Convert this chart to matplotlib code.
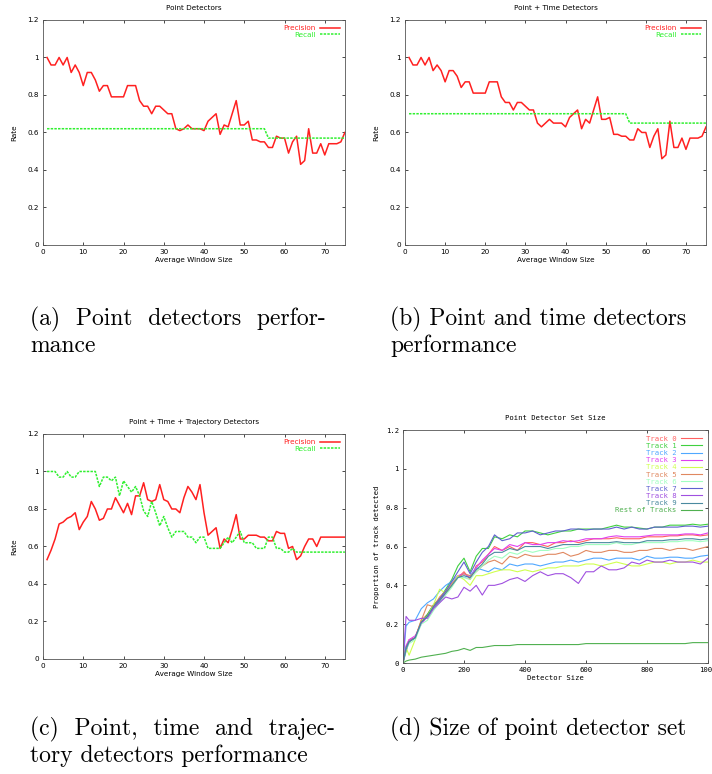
import matplotlib
matplotlib.use("Agg")
import matplotlib.pyplot as plt

# ---- panel a/b/c data: window size 1..75 ----
window = list(range(1, 76))

prec_point = [1.0, 0.96, 0.96, 1.0, 0.96, 1.0, 0.92, 0.96, 0.92, 0.85,
              0.92, 0.92, 0.88, 0.82, 0.85, 0.85, 0.79, 0.79, 0.79, 0.79,
              0.85, 0.85, 0.85, 0.77, 0.74, 0.74, 0.70, 0.74, 0.74, 0.72,
              0.70, 0.70, 0.62, 0.61, 0.62, 0.64, 0.62, 0.62, 0.62, 0.61,
              0.66, 0.68, 0.70, 0.59, 0.64, 0.63, 0.70, 0.77, 0.64, 0.64,
              0.66, 0.56, 0.56, 0.55, 0.55, 0.52, 0.52, 0.58, 0.57, 0.57,
              0.49, 0.55, 0.58, 0.43, 0.45, 0.62, 0.49, 0.49, 0.54, 0.48,
              0.54, 0.54, 0.54, 0.55, 0.60]
rec_point = [0.62] * 55 + [0.57] * 20

prec_time = [1.0, 0.96, 0.96, 1.0, 0.96, 1.0, 0.93, 0.96, 0.93, 0.87,
             0.93, 0.93, 0.90, 0.84, 0.87, 0.87, 0.81, 0.81, 0.81, 0.81,
             0.87, 0.87, 0.87, 0.79, 0.76, 0.76, 0.72, 0.76, 0.76, 0.74,
             0.72, 0.72, 0.65, 0.63, 0.65, 0.67, 0.65, 0.65, 0.65, 0.63,
             0.68, 0.70, 0.72, 0.62, 0.67, 0.65, 0.72, 0.79, 0.67, 0.67,
             0.68, 0.59, 0.59, 0.58, 0.58, 0.56, 0.56, 0.62, 0.60, 0.60,
             0.52, 0.58, 0.62, 0.46, 0.48, 0.66, 0.52, 0.52, 0.57, 0.51,
             0.57, 0.57, 0.57, 0.58, 0.63]
rec_time = [0.70] * 55 + [0.65] * 20

prec_traj = [0.53, 0.58, 0.64, 0.72, 0.73, 0.75, 0.76, 0.78, 0.69, 0.73,
             0.76, 0.84, 0.80, 0.74, 0.75, 0.80, 0.80, 0.86, 0.82, 0.78,
             0.83, 0.77, 0.87, 0.87, 0.94, 0.85, 0.84, 0.85, 0.93, 0.85,
             0.84, 0.80, 0.80, 0.78, 0.86, 0.92, 0.89, 0.85, 0.93, 0.78,
             0.66, 0.68, 0.70, 0.59, 0.64, 0.62, 0.69, 0.77, 0.64, 0.64,
             0.66, 0.66, 0.66, 0.65, 0.65, 0.63, 0.63, 0.68, 0.67, 0.67,
             0.59, 0.60, 0.53, 0.55, 0.60, 0.64, 0.64, 0.60, 0.65, 0.65,
             0.65, 0.65, 0.65, 0.65, 0.65]
rec_traj = [1.0, 1.0, 1.0, 0.97, 0.97, 1.0, 0.97, 0.97, 1.0, 1.0,
            1.0, 1.0, 1.0, 0.92, 0.97, 0.97, 0.95, 0.97, 0.87, 0.95,
            0.92, 0.89, 0.92, 0.87, 0.79, 0.76, 0.84, 0.78, 0.71, 0.76,
            0.70, 0.65, 0.68, 0.68, 0.68, 0.65, 0.65, 0.62, 0.65, 0.65,
            0.59, 0.59, 0.59, 0.59, 0.62, 0.65, 0.62, 0.65, 0.68, 0.62,
            0.62, 0.62, 0.59, 0.59, 0.59, 0.65, 0.65, 0.59, 0.59, 0.57,
            0.57, 0.59, 0.57, 0.57, 0.57, 0.57, 0.57, 0.57, 0.57, 0.57,
            0.57, 0.57, 0.57, 0.57, 0.57]

# ---- panel d data ----
det_size = [0, 10, 20, 40, 60, 80, 100, 120, 140, 160, 180, 200, 220, 240,
            260, 280, 300, 325, 350, 375, 400, 425, 450, 475, 500, 525, 550,
            575, 600, 625, 650, 675, 700, 725, 750, 775, 800, 825, 850, 875,
            900, 925, 950, 975, 1000]

track0 = [0, 0.08, 0.12, 0.13, 0.22, 0.25, 0.30, 0.33, 0.36, 0.40, 0.44, 0.47, 0.43, 0.50,
          0.52, 0.56, 0.60, 0.58, 0.60, 0.58,
          0.62, 0.62, 0.61, 0.60, 0.62, 0.62, 0.63, 0.62, 0.63, 0.64, 0.64, 0.64, 0.645,
          0.64, 0.64, 0.64, 0.65, 0.65, 0.65, 0.655, 0.655, 0.66, 0.66, 0.655, 0.66]
track1 = [0, 0.06, 0.11, 0.13, 0.21, 0.25, 0.30, 0.33, 0.38, 0.43, 0.50, 0.54, 0.47, 0.55,
          0.59, 0.59, 0.65, 0.64, 0.66, 0.65,
          0.68, 0.68, 0.67, 0.66, 0.67, 0.68, 0.68, 0.69, 0.69, 0.69, 0.69, 0.70, 0.71,
          0.70, 0.70, 0.695, 0.69, 0.70, 0.70, 0.71, 0.71, 0.71, 0.715, 0.71, 0.715]
track2 = [0, 0.19, 0.21, 0.22, 0.28, 0.31, 0.33, 0.37, 0.40, 0.42, 0.45, 0.44, 0.45, 0.49,
          0.48, 0.47, 0.49, 0.48, 0.51, 0.50,
          0.51, 0.51, 0.50, 0.51, 0.52, 0.52, 0.53, 0.52, 0.53, 0.54, 0.54, 0.53, 0.54,
          0.54, 0.54, 0.53, 0.55, 0.54, 0.54, 0.545, 0.545, 0.54, 0.54, 0.55, 0.555]
track3 = [0, 0.09, 0.12, 0.14, 0.20, 0.24, 0.28, 0.32, 0.36, 0.40, 0.45, 0.46, 0.44, 0.49,
          0.53, 0.56, 0.59, 0.58, 0.61, 0.60,
          0.62, 0.61, 0.61, 0.62, 0.62, 0.63, 0.625, 0.63, 0.64, 0.64, 0.64, 0.65, 0.655,
          0.65, 0.65, 0.65, 0.655, 0.66, 0.66, 0.66, 0.66, 0.665, 0.665, 0.66, 0.67]
track4 = [0, 0.08, 0.04, 0.12, 0.22, 0.24, 0.30, 0.38, 0.36, 0.40, 0.45, 0.43, 0.40, 0.45,
          0.45, 0.46, 0.47, 0.48, 0.48, 0.47,
          0.48, 0.47, 0.48, 0.49, 0.49, 0.50, 0.50, 0.50, 0.51, 0.51, 0.50, 0.51, 0.52,
          0.51, 0.50, 0.50, 0.51, 0.52, 0.52, 0.51, 0.52, 0.52, 0.53, 0.52, 0.52]
track5 = [0, 0.08, 0.11, 0.13, 0.22, 0.30, 0.29, 0.34, 0.37, 0.41, 0.44, 0.46, 0.45, 0.47,
          0.50, 0.52, 0.53, 0.51, 0.55, 0.54,
          0.56, 0.55, 0.55, 0.56, 0.56, 0.57, 0.55, 0.56, 0.58, 0.57, 0.57, 0.58, 0.58,
          0.57, 0.57, 0.58, 0.58, 0.59, 0.59, 0.58, 0.59, 0.59, 0.58, 0.59, 0.60]
track6 = [0, 0.07, 0.10, 0.12, 0.20, 0.22, 0.27, 0.31, 0.35, 0.39, 0.44, 0.44, 0.43, 0.47,
          0.50, 0.53, 0.55, 0.54, 0.57, 0.56,
          0.58, 0.57, 0.58, 0.58, 0.59, 0.59, 0.60, 0.60, 0.61, 0.61, 0.61, 0.61, 0.62,
          0.61, 0.61, 0.62, 0.62, 0.62, 0.62, 0.625, 0.625, 0.63, 0.63, 0.625, 0.63]
track7 = [0, 0.07, 0.11, 0.13, 0.21, 0.24, 0.29, 0.33, 0.37, 0.42, 0.47, 0.52, 0.46, 0.52,
          0.57, 0.60, 0.66, 0.63, 0.64, 0.67,
          0.67, 0.68, 0.66, 0.67, 0.68, 0.68, 0.69, 0.69, 0.685, 0.69, 0.69, 0.69, 0.70,
          0.69, 0.70, 0.69, 0.69, 0.70, 0.70, 0.70, 0.70, 0.705, 0.705, 0.70, 0.705]
track8 = [0, 0.24, 0.22, 0.22, 0.23, 0.23, 0.28, 0.31, 0.34, 0.33, 0.34, 0.39, 0.37, 0.40,
          0.35, 0.40, 0.40, 0.41, 0.43, 0.44,
          0.42, 0.45, 0.47, 0.45, 0.46, 0.46, 0.44, 0.41, 0.47, 0.47, 0.50, 0.48, 0.48,
          0.49, 0.52, 0.51, 0.53, 0.52, 0.52, 0.53, 0.52, 0.52, 0.52, 0.51, 0.54]
track9 = [0, 0.08, 0.11, 0.13, 0.21, 0.24, 0.29, 0.32, 0.36, 0.40, 0.44, 0.45, 0.44, 0.48,
          0.51, 0.55, 0.57, 0.57, 0.59, 0.58,
          0.60, 0.60, 0.60, 0.59, 0.60, 0.61, 0.61, 0.61, 0.62, 0.62, 0.62, 0.62, 0.625,
          0.62, 0.62, 0.62, 0.63, 0.63, 0.63, 0.635, 0.635, 0.64, 0.64, 0.635, 0.64]
rest = [0, 0.01, 0.015, 0.02, 0.03, 0.035, 0.04, 0.045, 0.05, 0.06, 0.065, 0.075, 0.065, 0.08,
        0.08, 0.085, 0.09, 0.09, 0.09, 0.095,
        0.095, 0.095, 0.095, 0.095, 0.095, 0.095, 0.095, 0.095, 0.10, 0.10, 0.10, 0.10, 0.10,
        0.10, 0.10, 0.10, 0.10, 0.10, 0.10, 0.10, 0.10, 0.10, 0.105, 0.105, 0.105]

track_names = ["Track 0", "Track 1", "Track 2", "Track 3", "Track 4", "Track 5",
               "Track 6", "Track 7", "Track 8", "Track 9", "Rest of Tracks"]
track_values = [track0, track1, track2, track3, track4, track5,
                track6, track7, track8, track9, rest]
track_colors = ["#ff6060", "#40d040", "#50a8ff", "#e040f0", "#d0ff50", "#e08860",
                "#a0ffc0", "#6060d0", "#a050e0", "#4a8aa0", "#50b050"]

SANS = "DejaVu Sans"
MONO = "DejaVu Sans Mono"
FS = 5.2


def style_axes(ax, family):
    ax.tick_params(direction="in", length=2.5, width=0.5, labelsize=FS,
                   top=True, right=True, pad=3)
    for lab in ax.get_xticklabels() + ax.get_yticklabels():
        lab.set_family(family)
    for s in ax.spines.values():
        s.set_linewidth(0.6)
        s.set_color("#555555")


def rate_panel(ax, title, prec, rec):
    ax.plot(window, prec, color="#ff2020", lw=1.1, label="Precision")
    ax.plot(window, rec, color="#30f030", lw=1.1, ls=(0, (1.6, 0.8)), label="Recall")
    ax.set_xlim(0, 75)
    ax.set_ylim(0, 1.2)
    ax.set_xticks(range(0, 71, 10))
    ax.set_yticks([0, 0.2, 0.4, 0.6, 0.8, 1.0, 1.2])
    ax.set_yticklabels(["0", "0.2", "0.4", "0.6", "0.8", "1", "1.2"])
    ax.set_title(title, fontsize=FS, family=SANS, pad=7)
    ax.set_xlabel("Average Window Size", fontsize=FS, family=SANS, labelpad=1)
    ax.set_ylabel("Rate", fontsize=FS, family=SANS, labelpad=7)
    ax.legend(loc="upper right", frameon=False, markerfirst=False,
              labelcolor="linecolor", prop={"family": SANS, "size": FS},
              handlelength=2.8, handletextpad=0.6, labelspacing=0.1,
              borderaxespad=0.3)
    style_axes(ax, SANS)


fig = plt.figure(figsize=(7.12, 7.74), dpi=100)

ax_a = fig.add_axes([0.0604, 0.6835, 0.424, 0.2907])
rate_panel(ax_a, "Point Detectors", prec_point, rec_point)

ax_b = fig.add_axes([0.5688, 0.6835, 0.4228, 0.2907])
rate_panel(ax_b, "Point + Time Detectors", prec_time, rec_time)

ax_c = fig.add_axes([0.0604, 0.1486, 0.424, 0.2907])
rate_panel(ax_c, "Point + Time + Trajectory Detectors", prec_traj, rec_traj)

ax_d = fig.add_axes([0.566, 0.1434, 0.4284, 0.301])
for name, vals, col in zip(track_names, track_values, track_colors):
    ax_d.plot(det_size, vals, color=col, lw=0.8, label=name)
ax_d.set_xlim(0, 1000)
ax_d.set_ylim(0, 1.2)
ax_d.set_xticks([0, 200, 400, 600, 800, 1000])
ax_d.set_yticks([0, 0.2, 0.4, 0.6, 0.8, 1.0, 1.2])
ax_d.set_yticklabels(["0", "0.2", "0.4", "0.6", "0.8", "1", "1.2"])
ax_d.set_title("Point Detector Set Size", fontsize=FS, family=MONO, pad=7)
ax_d.set_xlabel("Detector Size", fontsize=FS, family=MONO, labelpad=1)
ax_d.set_ylabel("Proportion of track detected", fontsize=FS, family=MONO, labelpad=4)
ax_d.legend(loc="upper right", frameon=False, markerfirst=False,
            labelcolor="linecolor", prop={"family": MONO, "size": FS},
            handlelength=3.0, handletextpad=0.6, labelspacing=0.15,
            borderaxespad=0.4)
style_axes(ax_d, MONO)

# ---- captions ----
CAP = dict(family="cmr10", fontsize=17, va="baseline", ha="left")
fig.text(30 / 712, 1 - 325 / 774, "(a)  Point  detectors  perfor-", **CAP)
fig.text(30 / 712, 1 - 352 / 774, "mance", **CAP)
fig.text(390 / 712, 1 - 325 / 774, "(b) Point and time detectors", **CAP)
fig.text(390 / 712, 1 - 352 / 774, "performance", **CAP)
fig.text(30 / 712, 1 - 735 / 774, "(c)  Point,  time  and  trajec-", **CAP)
fig.text(30 / 712, 1 - 762 / 774, "tory detectors performance", **CAP)
fig.text(390 / 712, 1 - 735 / 774, "(d) Size of point detector set", **CAP)

fig.savefig("out.png", dpi=100)
